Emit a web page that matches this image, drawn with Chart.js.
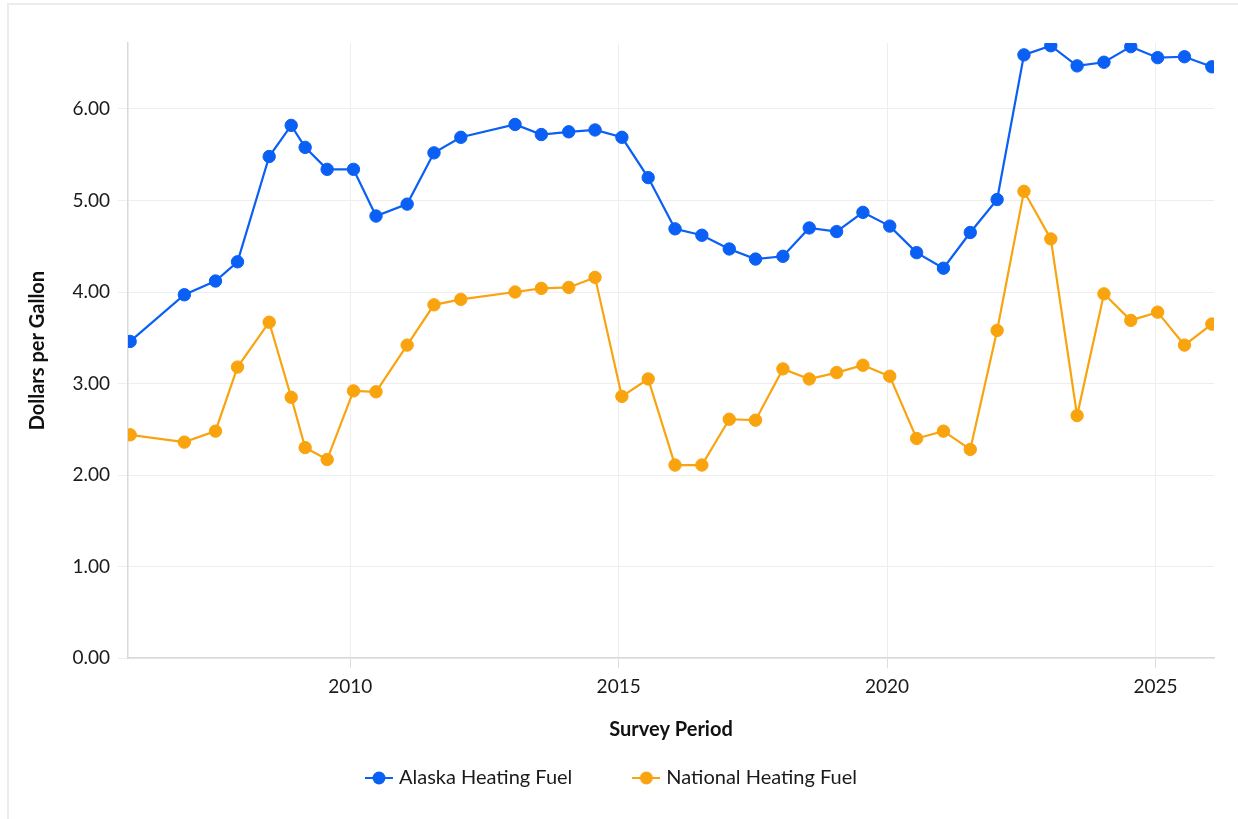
<!DOCTYPE html>
<html>
<head>
<meta charset="utf-8">
<script src="https://cdn.jsdelivr.net/npm/chart.js@4.4.1/dist/chart.umd.min.js"></script>
<style>
  html, body { margin: 0; padding: 0; background: #fff; overflow: hidden; }
  #card {
    position: absolute; left: 7px; top: 3px; width: 1300px; height: 900px;
    border-top: 2px solid #ececec; border-left: 2px solid #ececec;
  }
  #wrap { position: absolute; left: 0; top: 0; width: 1238px; height: 819px; }
</style>
</head>
<body>
<div id="card"></div>
<div id="wrap"><canvas id="fuelChart"></canvas></div>
<script>
// survey dates as decimal years
const surveyDates = [
  2005.90, 2006.91, 2007.49, 2007.90, 2008.49, 2008.90, 2009.16, 2009.57, 2010.06, 2010.48,
  2011.06, 2011.56, 2012.06, 2013.07, 2013.56, 2014.07, 2014.56, 2015.06, 2015.55, 2016.05,
  2016.55, 2017.06, 2017.55, 2018.06, 2018.55, 2019.06, 2019.55, 2020.05, 2020.55, 2021.05,
  2021.55, 2022.05, 2022.55, 2023.05, 2023.54, 2024.04, 2024.54, 2025.04, 2025.54, 2026.05
];

const alaskaFuel = [
  3.46, 3.97, 4.12, 4.33, 5.48, 5.82, 5.58, 5.34, 5.34, 4.83,
  4.96, 5.52, 5.69, 5.83, 5.72, 5.75, 5.77, 5.69, 5.25, 4.69,
  4.62, 4.47, 4.36, 4.39, 4.70, 4.66, 4.87, 4.72, 4.43, 4.26,
  4.65, 5.01, 6.59, 6.69, 6.47, 6.51, 6.68, 6.56, 6.57, 6.46
];

const nationalFuel = [
  2.44, 2.36, 2.48, 3.18, 3.67, 2.85, 2.30, 2.17, 2.92, 2.91,
  3.42, 3.86, 3.92, 4.00, 4.04, 4.05, 4.16, 2.86, 3.05, 2.11,
  2.11, 2.61, 2.60, 3.16, 3.05, 3.12, 3.20, 3.08, 2.40, 2.48,
  2.28, 3.58, 5.10, 4.58, 2.65, 3.98, 3.69, 3.78, 3.42, 3.65
];

const xTickYears = [2010, 2015, 2020, 2025];
const yTickValues = [0, 1, 2, 3, 4, 5, 6];

const seriesNames = ["Alaska Heating Fuel", "National Heating Fuel"];
const seriesColors = ["#0a5ff4", "#f9a30e"];

const fontFamily = "Lato, 'Noto Sans', sans-serif";

function toPoints(values) {
  return values.map((v, i) => ({ x: surveyDates[i], y: v }));
}

// legend marker: short line with a dot on it
function legendMarker(color) {
  const c = document.createElement("canvas");
  c.width = 28;
  c.height = 16;
  const g = c.getContext("2d");
  g.strokeStyle = color;
  g.lineWidth = 2;
  g.beginPath();
  g.moveTo(0, 8);
  g.lineTo(28, 8);
  g.stroke();
  g.fillStyle = color;
  g.beginPath();
  g.arc(14, 8, 6.5, 0, Math.PI * 2);
  g.fill();
  return c;
}

const markers = seriesColors.map(legendMarker);

// nudge the legend a little to the right, like the original
const legendNudge = {
  id: "legendNudge",
  afterLayout(chart) {
    if (chart.legend) chart.legend.left += 12;
  }
};

const ctx = document.getElementById("fuelChart").getContext("2d");

new Chart(ctx, {
  type: "line",
  data: {
    datasets: [alaskaFuel, nationalFuel].map((vals, i) => ({
      label: seriesNames[i],
      data: toPoints(vals),
      borderColor: seriesColors[i],
      backgroundColor: seriesColors[i],
      pointBackgroundColor: seriesColors[i],
      pointBorderColor: seriesColors[i],
      borderWidth: 2.2,
      pointRadius: 6.2,
      pointBorderWidth: 1,
      tension: 0,
      fill: false
    }))
  },
  options: {
    responsive: true,
    maintainAspectRatio: false,
    animation: false,
    layout: { padding: { left: 0, right: 24, top: 43, bottom: 21 } },
    scales: {
      x: {
        type: "linear",
        min: 2005.86,
        max: 2026.09,
        afterBuildTicks: (s) => { s.ticks = xTickYears.map(v => ({ value: v })); },
        ticks: {
          padding: 7,
          color: "#1a1a1a",
          font: { family: fontFamily, size: 19 },
          callback: (v) => String(v)
        },
        grid: { color: "#eeeeee", tickColor: "#dddddd", tickLength: 10 },
        border: { color: "#d9d9d9", width: 1.5 },
        title: {
          display: true,
          text: "Survey Period",
          color: "#111",
          font: { family: fontFamily, size: 20, weight: "bold" },
          padding: { top: 13, bottom: -38 }
        }
      },
      y: {
        min: 0,
        max: 6.72,
        afterBuildTicks: (s) => { s.ticks = yTickValues.map(v => ({ value: v })); },
        afterFit: (s) => { s.width = 128; },
        ticks: {
          padding: 8,
          color: "#1a1a1a",
          font: { family: fontFamily, size: 19 },
          callback: (v) => v.toFixed(2)
        },
        grid: { color: "#eeeeee", tickColor: "#eeeeee", tickLength: 10 },
        border: { color: "#d9d9d9", width: 1.5 },
        title: {
          display: true,
          text: "Dollars per Gallon",
          color: "#111",
          font: { family: fontFamily, size: 20, weight: "bold" },
          padding: { top: 26, bottom: 0 }
        }
      }
    },
    plugins: {
      tooltip: { enabled: false },
      legend: {
        position: "bottom",
        labels: {
          usePointStyle: true,
          pointStyleWidth: 20,
          padding: 64,
          color: "#1a1a1a",
          font: { family: fontFamily, size: 20 },
          generateLabels: (chart) => {
            const items = Chart.defaults.plugins.legend.labels.generateLabels(chart);
            items.forEach((it, i) => { it.pointStyle = markers[i]; });
            return items;
          }
        }
      }
    }
  },
  plugins: [legendNudge]
});
</script>
</body>
</html>
